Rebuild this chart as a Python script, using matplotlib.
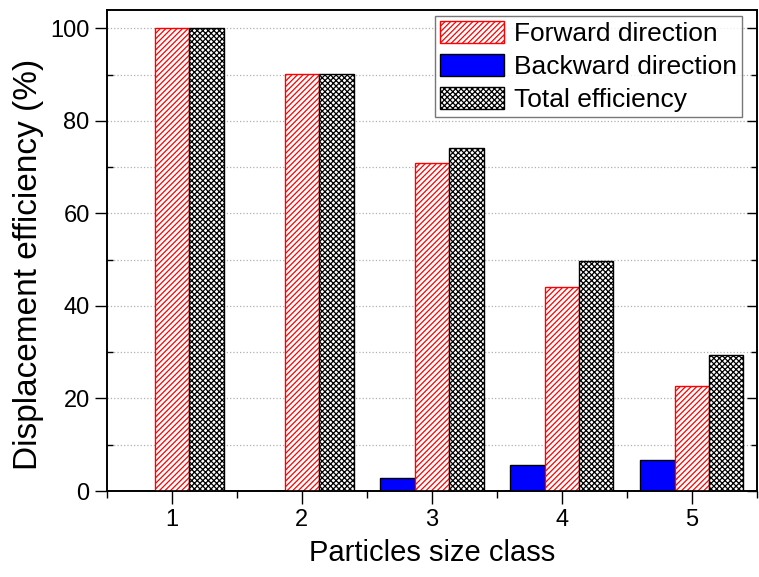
import matplotlib.pyplot as plt
import numpy as np
from matplotlib.ticker import MultipleLocator

plt.rcParams['font.family'] = ['Liberation Sans', 'DejaVu Sans']
plt.rcParams['hatch.linewidth'] = 0.9

# Data
classes = [1, 2, 3, 4, 5]
forward = [100.0, 90.2, 71.0, 44.0, 22.7]
backward = [0.0, 0.0, 2.9, 5.7, 6.6]
total = [100.0, 90.2, 74.1, 49.8, 29.4]

x = np.array(classes, dtype=float)
w = 0.265

fig = plt.figure(figsize=(7.59, 5.77), dpi=100)
ax = fig.add_axes([0.141, 0.149, 0.856, 0.834])

# Bars: backward left, forward centre, total right
ax.bar(x - w, backward, w, color='#0000ff', edgecolor='black', linewidth=1.0,
       label='Backward direction', zorder=3)
ax.bar(x, forward, w, color='white', edgecolor='red', hatch='//////', linewidth=1.0,
       label='Forward direction', zorder=3)
ax.bar(x + w, total, w, color='white', edgecolor='black', hatch='xxxxxx', linewidth=1.0,
       label='Total efficiency', zorder=3)

ax.set_xlim(0.5, 5.5)
ax.set_ylim(0, 104)
ax.set_xticks(classes)
ax.xaxis.set_minor_locator(MultipleLocator(0.5))
ax.yaxis.set_major_locator(MultipleLocator(20))
ax.yaxis.set_minor_locator(MultipleLocator(10))

ax.grid(which='both', axis='y', linestyle=':', color='#b0b0b0', linewidth=0.9, zorder=0)

ax.tick_params(which='major', direction='out', length=9, width=1.0, labelsize=17)
ax.tick_params(axis='x', which='major', pad=4)
ax.tick_params(axis='x', which='minor', direction='out', length=5, width=1.0)
ax.tick_params(axis='y', which='minor', direction='in', length=4, width=1.0)

# right side ticks point inward
ax2 = ax.twinx()
ax2.set_ylim(ax.get_ylim())
ax2.yaxis.set_major_locator(MultipleLocator(20))
ax2.yaxis.set_minor_locator(MultipleLocator(10))
ax2.tick_params(which='both', direction='in', length=7, width=1.0, labelright=False)
ax2.tick_params(which='minor', length=4)

for a in (ax, ax2):
    for sp in a.spines.values():
        sp.set_linewidth(1.2)

ax.set_xlabel('Particles size class', fontsize=21, labelpad=6)
ax.set_ylabel('Displacement efficiency (%)', fontsize=24)
ax.yaxis.set_label_coords(-0.097, 0.47)

# legend order: forward, backward, total
h, l = ax.get_legend_handles_labels()
order = [1, 0, 2]
ax2.legend([h[i] for i in order], [l[i] for i in order], loc='upper right',
           bbox_to_anchor=(0.978, 0.988), bbox_transform=ax.transAxes,
           fontsize=19, frameon=True, fancybox=False, edgecolor='#555555',
           handlelength=2.4, handleheight=0.9, borderaxespad=0.0,
           labelspacing=0.3, handletextpad=0.4, borderpad=0.2)

fig.savefig('out.png', dpi=100)
